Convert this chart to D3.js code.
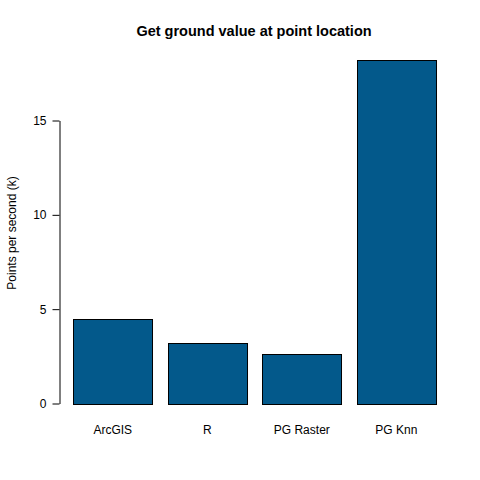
<!DOCTYPE html>
<html><head><meta charset="utf-8">
<script src="https://cdn.jsdelivr.net/npm/d3@7"></script>
<style>body{margin:0;background:#fff}svg{display:block}text{font-family:"Liberation Sans",Arial,sans-serif}</style>
</head><body><div id="c"></div>
<script>
const categories = ["ArcGIS", "R", "PG Raster", "PG Knn"];
const values = [4.5, 3.23, 2.65, 18.21];
const yTicks = [0, 5, 10, 15];
const title = "Get ground value at point location";
const yLabel = "Points per second (k)";

const W = 480, H = 480;
const svg = d3.select("#c").append("svg").attr("width", W).attr("height", H);
svg.append("rect").attr("width", W).attr("height", H).attr("fill", "#fff");

const x = d3.scaleBand().domain(categories).range([57.5, 451.6]).paddingInner(0.164).paddingOuter(0.167);
const y = d3.scaleLinear().domain([0, 15]).range([403.5, 120.5]);

svg.append("g").selectAll("rect").data(values).join("rect")
  .attr("x", (d, i) => Math.round(x(categories[i])) + 0.5)
  .attr("y", d => Math.round(y(d)) + 0.5)
  .attr("width", x.bandwidth())
  .attr("height", d => Math.round(y(0)) - Math.round(y(d)))
  .attr("fill", "#03598b").attr("stroke", "#000").attr("stroke-width", 1);

const ya = svg.append("g").attr("transform", "translate(59.5,0)")
  .call(d3.axisLeft(y).tickValues(yTicks).tickSize(7).tickSizeOuter(0).tickPadding(6).tickFormat(d3.format("d")));
ya.selectAll("text").attr("font-size", 12).attr("fill", "#000").attr("font-family", '"Liberation Sans",Arial,sans-serif');
ya.selectAll("line,path").attr("stroke", "#000");

svg.append("g").selectAll("text").data(categories).join("text")
  .attr("x", d => x(d) + x.bandwidth() / 2).attr("y", 434)
  .attr("text-anchor", "middle").attr("font-size", 12).text(d => d);

svg.append("text").attr("x", 254).attr("y", 36).attr("text-anchor", "middle")
  .attr("font-size", 14.5).attr("font-weight", "bold").text(title);

svg.append("text").attr("transform", "translate(16,233) rotate(-90)")
  .attr("text-anchor", "middle").attr("font-size", 12).text(yLabel);
</script></body></html>
